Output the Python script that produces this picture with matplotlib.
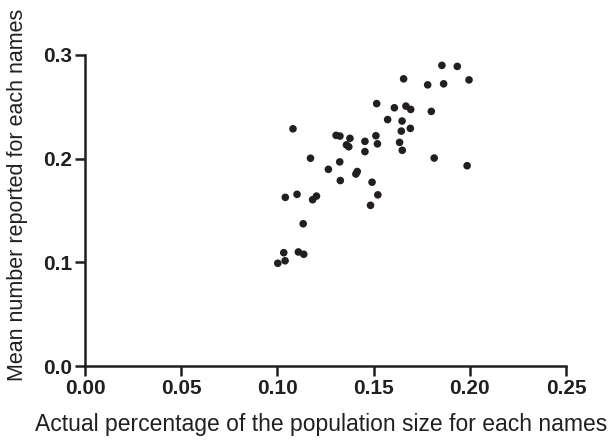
import matplotlib
matplotlib.use("Agg")
import matplotlib.pyplot as plt

actual_pct = [0.1516, 0.1081, 0.1305, 0.1325, 0.1377, 0.1455, 0.1512, 0.1520, 0.1359, 0.1371,
              0.1455, 0.1172, 0.1324, 0.1265, 0.1415, 0.1408, 0.1327, 0.1492, 0.1041, 0.1102,
              0.1203, 0.1183, 0.1522, 0.1855, 0.1935, 0.1656, 0.1781, 0.1864, 0.1996, 0.1608,
              0.1668, 0.1693, 0.1800, 0.1573, 0.1648, 0.1644, 0.1691, 0.1635, 0.1649, 0.1815,
              0.1986, 0.1484, 0.1134, 0.1033, 0.1040, 0.1002, 0.1109, 0.1137]
mean_reported = [0.2531, 0.2288, 0.2225, 0.2218, 0.2196, 0.2167, 0.2221, 0.2143, 0.2133, 0.2115,
                 0.2068, 0.2004, 0.1969, 0.1897, 0.1876, 0.1852, 0.1789, 0.1773, 0.1627, 0.1656,
                 0.1639, 0.1604, 0.1651, 0.2900, 0.2890, 0.2770, 0.2712, 0.2722, 0.2760, 0.2491,
                 0.2507, 0.2475, 0.2456, 0.2377, 0.2363, 0.2266, 0.2292, 0.2157, 0.2081, 0.2006,
                 0.1932, 0.1550, 0.1372, 0.1093, 0.1015, 0.0991, 0.1100, 0.1078]
x_ticks = [0.00, 0.05, 0.10, 0.15, 0.20, 0.25]
x_tick_labels = ["0.00", "0.05", "0.10", "0.15", "0.20", "0.25"]
y_ticks = [0.0, 0.1, 0.2, 0.3]
y_tick_labels = ["0.0", "0.1", "0.2", "0.3"]

plt.rcParams['font.family'] = ['Liberation Sans', 'DejaVu Sans']

fig = plt.figure(figsize=(6.14, 4.41), dpi=100)
ax = fig.add_axes([85/614, 1-366/441, (566-85)/614, (366-55)/441])

ax.scatter(actual_pct, mean_reported, s=30, color='#231f20', edgecolors='none', clip_on=False, zorder=3)

ax.set_xlim(0, 0.25)
ax.set_ylim(0, 0.3)
ax.set_xticks(x_ticks)
ax.set_xticklabels(x_tick_labels)
ax.set_yticks(y_ticks)
ax.set_yticklabels(y_tick_labels)

for s in ['top', 'right']:
    ax.spines[s].set_visible(False)
for s in ['left', 'bottom']:
    ax.spines[s].set_linewidth(1.8)
    ax.spines[s].set_color('#231f20')

ax.tick_params(axis='both', direction='out', length=7.5, width=1.8, color='#231f20',
               labelsize=15, pad=1.5, labelcolor='#231f20')
for lab in ax.get_xticklabels() + ax.get_yticklabels():
    lab.set_fontweight('bold')

fig.text(321/614, 1-424/441, "Actual percentage of the population size for each names",
         fontsize=16.5, color='#231f20', ha='center', va='center')
fig.text(18/614, 1-195/441, "Mean number reported for each names",
         fontsize=15.5, color='#231f20', ha='center', va='center', rotation=90)

fig.savefig("out.png", dpi=100)
